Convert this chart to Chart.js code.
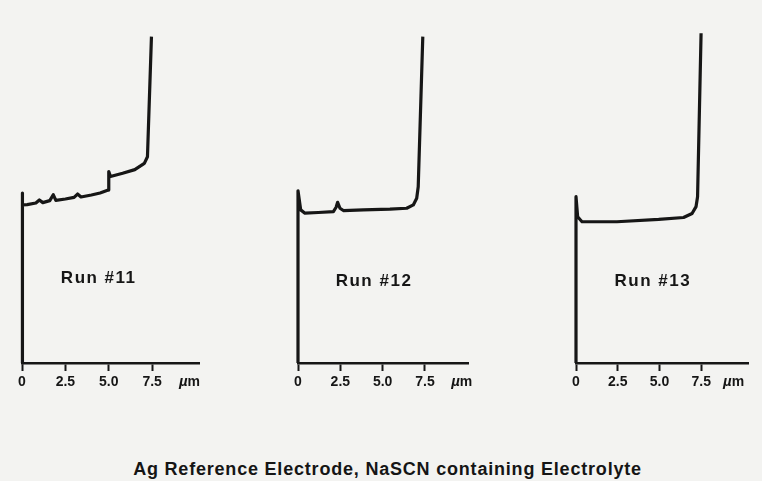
<!DOCTYPE html>
<html>
<head>
<meta charset="utf-8">
<script src="https://cdn.jsdelivr.net/npm/chart.js@4.4.1/dist/chart.umd.min.js"></script>
<style>
  html, body { margin: 0; padding: 0; background: #f3f3f1; }
  #fig { position: relative; width: 762px; height: 481px; overflow: hidden; background: #f3f3f1; }
  #fig canvas { position: absolute; top: 0; }
  #titulo {
    position: absolute; left: 0; width: 775px; top: 461px;
    text-align: center; font: bold 18px "Liberation Sans", Arial, sans-serif;
    letter-spacing: 0.8px; line-height: 17px; color: #151515;
  }
</style>
</head>
<body>
<div id="fig">
  <canvas id="run11" width="210" height="393" style="left:2px"></canvas>
  <canvas id="run12" width="205" height="393" style="left:278px"></canvas>
  <canvas id="run13" width="204" height="393" style="left:556px"></canvas>
  <div id="titulo">Ag Reference Electrode, NaSCN containing Electrolyte</div>
</div>
<script>
// eixo x comum (µm)
const xTicks = [0, 2.5, 5.0, 7.5];
const xTickLabels = ['0', '2.5', '5.0', '7.5'];

// Run #11 – profundidade (µm) e sinal (unid. arbitrárias)
const run11Depth  = [0, 0, 0.05, 0.3, 0.8, 1.0, 1.2, 1.6, 1.8, 1.95, 2.5, 3.0, 3.2, 3.4, 4.0, 4.5, 4.97, 5.0, 5.1, 5.8, 6.5, 7.05, 7.23, 7.46];
const run11Signal = [0, 51.5, 47.9, 48.0, 48.5, 49.4, 48.6, 49.2, 51.0, 49.3, 49.7, 50.2, 51.2, 50.3, 50.9, 51.5, 52.4, 58.0, 56.5, 57.5, 58.6, 60.5, 62.5, 98.9];

// Run #12
const run12Depth  = [0, 0, 0.16, 0.41, 1.2, 2.09, 2.25, 2.34, 2.48, 2.68, 3.86, 5.43, 6.42, 6.81, 7.01, 7.1, 7.37];
const run12Signal = [0, 52.2, 46.4, 45.4, 45.6, 45.9, 47.2, 48.7, 46.9, 46.2, 46.4, 46.6, 46.9, 47.9, 49.9, 53.4, 98.9];

// Run #13
const run13Depth  = [0, 0, 0.1, 0.36, 2.45, 4.95, 6.44, 6.95, 7.19, 7.28, 7.49];
const run13Signal = [0, 50.4, 44.3, 42.8, 42.8, 43.5, 44.1, 45.3, 47.4, 50.4, 99.9];

const runNames = ['Run #11', 'Run #12', 'Run #13'];

const tinta = '#161616';
const fonte = '"Liberation Sans", Arial, Helvetica, sans-serif';

// rótulos "Run #.." e "µm" desenhados sobre o gráfico
const rotulos = {
  id: 'rotulos',
  afterDatasetsDraw(chart, args, opts) {
    const { ctx, scales } = chart;
    ctx.save();
    ctx.fillStyle = tinta;
    ctx.textBaseline = 'middle';
    ctx.textAlign = 'center';
    ctx.font = `bold 17px ${fonte}`;
    ctx.letterSpacing = '1.5px';
    ctx.fillText(opts.nome, scales.x.getPixelForValue(opts.nomeX), scales.y.getPixelForValue(opts.nomeY));
    ctx.letterSpacing = '0px';

    // unidade: µ itálico + m
    const yUn = chart.chartArea.bottom + 19;
    const xUn = scales.x.getPixelForValue(opts.unX);
    ctx.textAlign = 'left';
    ctx.font = `italic bold 15px ${fonte}`;
    const wMu = ctx.measureText('µ').width;
    ctx.font = `bold 14px ${fonte}`;
    const wM = ctx.measureText('m').width;
    const x0 = xUn - (wMu + wM) / 2;
    ctx.font = `italic bold 15px ${fonte}`;
    ctx.fillText('µ', x0, yUn);
    ctx.font = `bold 14px ${fonte}`;
    ctx.fillText('m', x0 + wMu, yUn);
    ctx.restore();
  }
};

function desenhaPainel(id, depth, signal, cfg) {
  const pontos = depth.map((x, i) => ({ x, y: signal[i] }));
  return new Chart(document.getElementById(id), {
    type: 'line',
    data: {
      datasets: [{
        data: pontos,
        borderColor: tinta,
        borderWidth: 3.2,
        pointRadius: 0,
        tension: 0,
        clip: false,
        borderJoinStyle: 'round'
      }]
    },
    options: {
      responsive: false,
      animation: false,
      layout: { padding: { left: 20, right: cfg.padRight, top: 33, bottom: 0 } },
      scales: {
        x: {
          type: 'linear',
          min: 0,
          max: cfg.xMax,
          afterBuildTicks: s => { s.ticks = xTicks.map(v => ({ value: v })); },
          afterFit: s => { s.height = 30; },
          border: { display: true, color: tinta, width: 2.5 },
          grid: { drawOnChartArea: false, drawTicks: true, tickLength: 8, tickColor: tinta, tickWidth: 2 },
          ticks: {
            autoSkip: false,
            maxRotation: 0,
            padding: 3,
            color: tinta,
            font: { family: fonte, size: 14, weight: 'bold' },
            callback: (v, i) => xTickLabels[i]
          }
        },
        y: { display: false, min: 0, max: 100 }
      },
      plugins: {
        legend: { display: false },
        tooltip: { enabled: false },
        rotulos: { nome: cfg.nome, nomeX: cfg.nomeX, nomeY: cfg.nomeY, unX: cfg.unX }
      }
    },
    plugins: [rotulos]
  });
}

window.addEventListener('DOMContentLoaded', () => {
  desenhaPainel('run11', run11Depth, run11Signal, { xMax: 10.2, padRight: 13, nome: runNames[0], nomeX: 4.42, nomeY: 25.8, unX: 9.65 });
  desenhaPainel('run12', run12Depth, run12Signal, { xMax: 10.04, padRight: 15, nome: runNames[1], nomeX: 4.49, nomeY: 24.9, unX: 9.67 });
  desenhaPainel('run13', run13Depth, run13Signal, { xMax: 10.3, padRight: 12, nome: runNames[2], nomeX: 4.6, nomeY: 24.8, unX: 9.44 });
});
</script>
</body>
</html>
